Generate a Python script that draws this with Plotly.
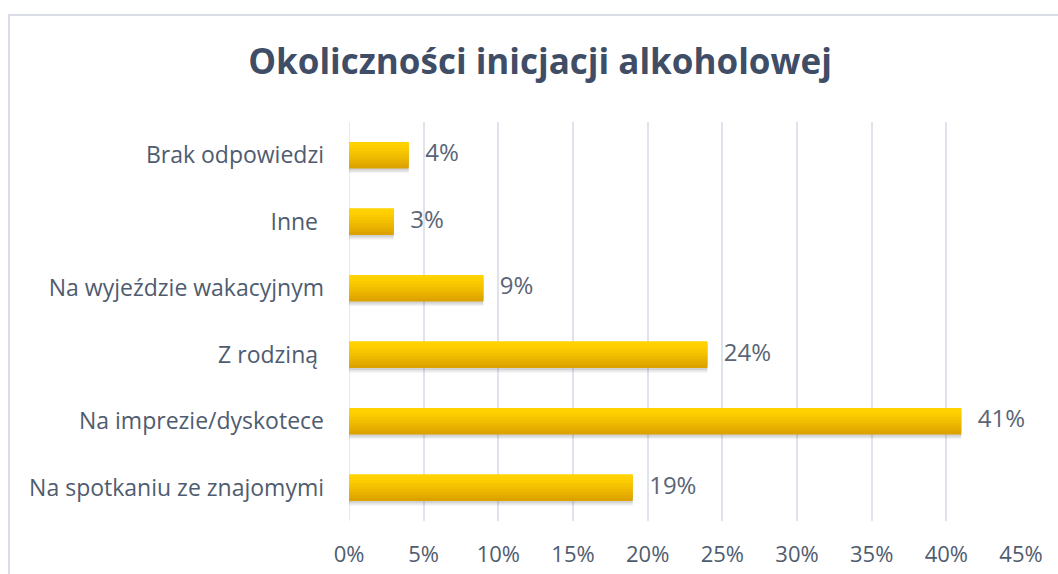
import plotly.graph_objects as go

categories = ["Na spotkaniu ze znajomymi", "Na imprezie/dyskotece", "Z rodziną ",
              "Na wyjeździe wakacyjnym", "Inne ", "Brak odpowiedzi"]
values = [19, 41, 24, 9, 3, 4]
tick_vals = [0, 5, 10, 15, 20, 25, 30, 35, 40, 45]
tick_text = [f"{v}%" for v in tick_vals]
title_text = "Okoliczności inicjacji alkoholowej"

W, H = 1058, 574
L, R, T, B = 349, 37, 122, 53

fig = go.Figure()

bar_w = 0.40
# soft shadow under bars
for d, a in [(0.07, 0.06), (0.05, 0.08), (0.03, 0.10)]:
    fig.add_trace(go.Bar(
        x=values, y=categories, orientation="h",
        width=bar_w, offset=-bar_w / 2 - d,
        marker=dict(color=f"rgba(60,60,60,{a})", line=dict(width=0)),
        hoverinfo="skip", showlegend=False,
    ))

# gradient bars: overlapping bands (bottom dark -> top light)
band_colors = ["#DCA200", "#E2A900", "#E8B100", "#EDB800", "#F2BF00",
               "#F7C500", "#FBCA00", "#FFCF00", "#FFD200"]
n = len(band_colors)
step = bar_w / n
for k, c in enumerate(band_colors):
    w = step * 2 if k < n - 1 else step
    fig.add_trace(go.Bar(
        x=values, y=categories, orientation="h",
        width=w, offset=-bar_w / 2 + k * step,
        marker=dict(color=c, line=dict(width=0)),
        hoverinfo="skip", showlegend=False,
    ))

fig.add_trace(go.Scatter(
    x=values, y=categories, mode="text",
    text=[f"  \u2009{v}%" for v in values], textposition="middle right",
    textfont=dict(family="Open Sans", size=24, color="#5A6577"),
    showlegend=False, hoverinfo="skip", cliponaxis=False,
))

px = lambda p: (p - L) / (W - L - R)
py = lambda p: 1 - (p - T) / (H - T - B)
fig.add_shape(type="rect", xref="paper", yref="paper",
              x0=px(9), x1=px(1070), y0=py(15), y1=py(590),
              line=dict(color="#D9DEE6", width=2), fillcolor="rgba(0,0,0,0)", layer="below")

fig.update_layout(
    width=W, height=H,
    margin=dict(l=L, r=R, t=T, b=B, autoexpand=False),
    paper_bgcolor="white", plot_bgcolor="white",
    barmode="overlay",
    title=dict(text=f"<b>{title_text}</b>", x=px(540), xref="paper", xanchor="center",
               y=1 - 62 / H, yanchor="middle",
               font=dict(family="Open Sans", size=35, color="#3F4E66")),
    xaxis=dict(range=[0, 45], tickvals=tick_vals, ticktext=tick_text,
               showgrid=True, gridcolor="#DFE4EC", gridwidth=1.5,
               zeroline=False, showline=False, ticks="",
               ticklabelstandoff=18,
               tickfont=dict(family="Open Sans", size=22, color="#4F5C70")),
    yaxis=dict(categoryorder="array", categoryarray=categories,
               showgrid=False, zeroline=False, showline=False, ticks="",
               ticklabelstandoff=24,
               tickfont=dict(family="Open Sans", size=23, color="#4F5C70")),
)

fig.add_shape(type="line", xref="x", yref="paper", x0=0, x1=0, y0=0, y1=1,
              line=dict(color="#DFE4EC", width=1.5), layer="below")

fig.write_html("out.html", config={"displayModeBar": False},
               post_script="document.body.style.margin='0px';document.body.style.overflow='hidden';")
